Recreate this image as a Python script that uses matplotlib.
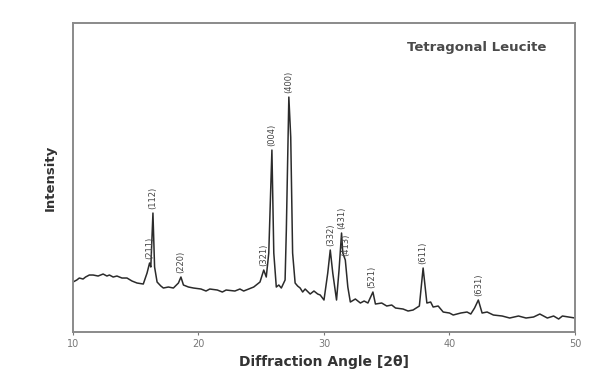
import matplotlib
matplotlib.use("Agg")
import matplotlib.pyplot as plt

# XRD pattern (2theta in degrees, intensity in arbitrary units)
two_theta = [10.0, 10.3, 10.5, 10.8, 11.0, 11.3, 11.6, 12.0, 12.4, 12.7, 12.9, 13.2, 13.5,
             13.9, 14.3, 14.7, 15.1, 15.6, 15.9, 16.1, 16.2, 16.37, 16.5, 16.7, 17.0, 17.2,
             17.6, 18.0, 18.4, 18.6, 18.8, 19.2, 19.6, 20.2, 20.6, 20.9, 21.5, 21.9, 22.2,
             22.9, 23.3, 23.6, 24.0, 24.4, 24.9, 25.2, 25.4, 25.6, 25.85, 26.0, 26.2, 26.4,
             26.6, 26.9, 27.0, 27.2, 27.35, 27.5, 27.7, 27.9, 28.1, 28.3, 28.5, 28.9, 29.2,
             29.5, 29.7, 30.0, 30.3, 30.5, 30.7, 31.0, 31.2, 31.4, 31.5, 31.7, 31.9, 32.1,
             32.5, 32.9, 33.2, 33.5, 33.9, 34.1, 34.6, 35.0, 35.4, 35.7, 36.3, 36.7, 37.1,
             37.6, 37.9, 38.2, 38.5, 38.7, 39.1, 39.5, 40.0, 40.3, 40.9, 41.4, 41.7, 42.0,
             42.3, 42.6, 43.0, 43.5, 44.2, 44.8, 45.5, 46.1, 46.7, 47.2, 47.8, 48.3, 48.7,
             49.0, 49.5, 50.0]
intensity = [50, 52, 54, 53, 55, 57, 57, 56, 58, 56, 57, 55, 56,
             54, 54, 51, 49, 48, 59, 69, 65, 119, 65, 50, 46, 44,
             45, 44, 49, 55, 47, 45, 44, 43, 41, 43, 42, 40, 42,
             41, 43, 41, 43, 45, 50, 62, 55, 79, 182, 79, 45, 47,
             44, 52, 102, 235, 195, 79, 49, 46, 44, 40, 43, 38, 41,
             38, 37, 32, 59, 82, 59, 32, 62, 99, 79, 72, 45, 30,
             33, 29, 31, 29, 40, 28, 29, 26, 27, 24, 23, 21, 22,
             26, 64, 29, 30, 25, 26, 20, 19, 17, 19, 20, 18, 24,
             32, 19, 20, 17, 16, 14, 16, 14, 15, 18, 14, 16, 13,
             16, 15, 14]

# peak labels (position, label anchor height, text)
peak_pos = [16.1, 16.37, 18.6, 25.2, 25.85, 27.2, 30.5, 31.4, 31.75, 33.8, 37.9, 42.3]
peak_top = [69, 119, 55, 62, 182, 235, 82, 99, 72, 40, 64, 32]
peak_hkl = ['(211)', '(112)', '(220)', '(321)', '(004)', '(400)',
            '(332)', '(431)', '(413)', '(521)', '(611)', '(631)']

fig = plt.figure(figsize=(6.11, 3.72), dpi=100)
ax = fig.add_axes([0.1195, 0.1075, 0.8215, 0.8305])

ax.plot(two_theta, intensity, color='#2b2b2b', linewidth=1.1)

for x, y, t in zip(peak_pos, peak_top, peak_hkl):
    ax.annotate(t, (x, y), xytext=(0, 3), textcoords='offset points',
                rotation=90, ha='center', va='bottom', fontsize=6, color='#444444')

ax.text(0.805, 0.922, 'Tetragonal Leucite', transform=ax.transAxes, ha='center', va='center',
        fontsize=9.5, fontweight='bold', color='#4a4a4a')

ax.set_xlim(10, 50)
ax.set_ylim(0, 309)
ax.set_xticks([10, 20, 30, 40, 50])
ax.set_yticks([])
ax.tick_params(axis='x', length=2, labelsize=7, colors='#777777', pad=3)

for s in ax.spines.values():
    s.set_color('#8a8a8a')
    s.set_linewidth(1.4)

ax.set_xlabel('Diffraction Angle [2θ]', fontsize=10, fontweight='bold', color='#333333', labelpad=4)
ax.set_ylabel('Intensity', fontsize=9.5, fontweight='bold', color='#333333', labelpad=12)

plt.savefig('out.png', dpi=100)
